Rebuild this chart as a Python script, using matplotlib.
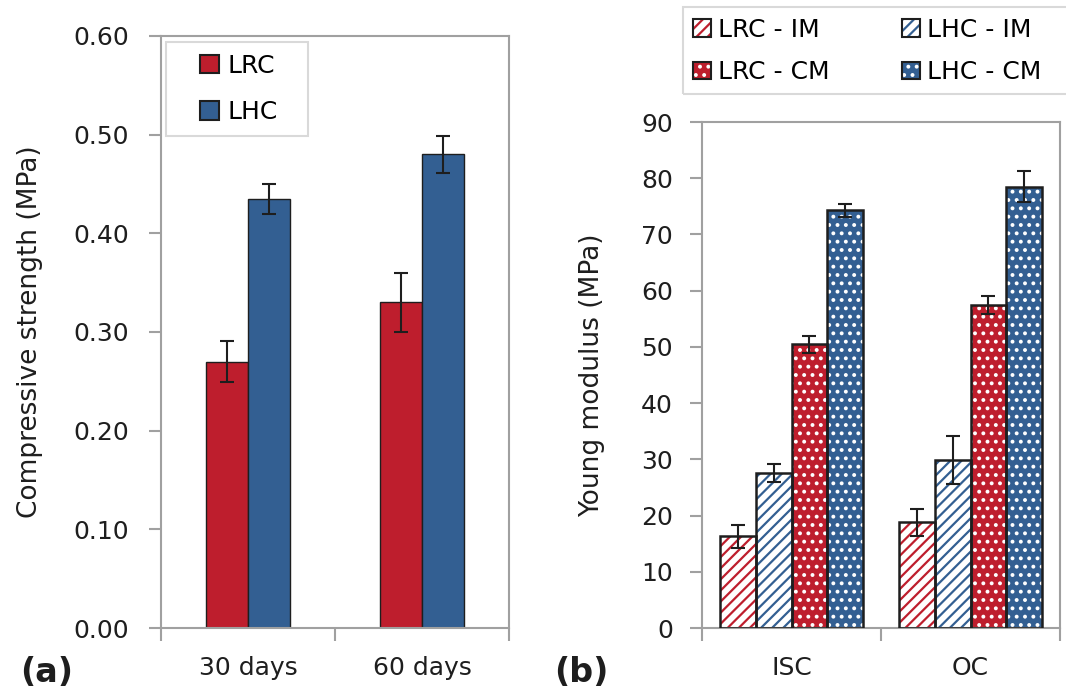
import matplotlib
matplotlib.use("Agg")
import matplotlib.pyplot as plt
from matplotlib.patches import Patch, Rectangle
import numpy as np

plt.rcParams['font.family'] = ['DejaVu Sans']
plt.rcParams['hatch.linewidth'] = 1.6

# ---- data (a) ----
ages = ['30 days', '60 days']
lrc_cs = [0.270, 0.330]
lrc_cs_err = [0.021, 0.030]
lhc_cs = [0.435, 0.480]
lhc_cs_err = [0.015, 0.019]

# ---- data (b) ----
cond = ['ISC', 'OC']
lrc_im = [16.3, 18.8]
lrc_im_err = [2.1, 2.4]
lhc_im = [27.6, 29.9]
lhc_im_err = [1.6, 4.3]
lrc_cm = [50.5, 57.4]
lrc_cm_err = [1.5, 1.6]
lhc_cm = [74.3, 78.5]
lhc_cm_err = [1.2, 2.7]

red = '#BE1E2D'
blue = '#335F92'
dark = '#1E1E1E'
grey = '#A0A0A0'
fs = 18

fig = plt.figure(figsize=(10.66, 6.99), dpi=100)
W, H = 1066, 699
ax1 = fig.add_axes([161 / W, 71 / H, 348 / W, 592 / H])
ax2 = fig.add_axes([702 / W, 71 / H, 358 / W, 506 / H])


def style_axes(ax, ncat, pad_y):
    for s in ax.spines.values():
        s.set_color(grey)
        s.set_linewidth(1.5)
    ax.set_xlim(-0.5, ncat - 0.5)
    ax.set_xticks(np.arange(ncat))
    ax.set_xticks(np.arange(ncat + 1) - 0.5, minor=True)
    ax.tick_params(axis='x', which='major', length=0, pad=20, labelsize=fs, colors=dark)
    ax.tick_params(axis='x', which='minor', length=9, width=1.5, color=grey, direction='out')
    ax.tick_params(axis='y', length=9, width=1.5, color=grey, direction='out',
                   pad=pad_y, labelsize=fs, labelcolor=dark)


def legend_box(x0, y0, x1, y1):
    # plain light frame drawn in pixel units of the figure
    fig.patches.append(Rectangle((x0 / W, 1 - y1 / H), (x1 - x0) / W, (y1 - y0) / H,
                                 transform=fig.transFigure, fill=False,
                                 edgecolor='#D9D9D9', linewidth=1.5))


# ---- (a) compressive strength ----
x = np.arange(len(ages))
w = 0.243
ekw = dict(ecolor=dark, elinewidth=1.5, capsize=4.7, capthick=1.5)
ax1.bar(x - w / 2, lrc_cs, w, color=red, edgecolor=dark, linewidth=1,
        yerr=lrc_cs_err, error_kw=ekw, label='LRC', zorder=2)
ax1.bar(x + w / 2, lhc_cs, w, color=blue, edgecolor=dark, linewidth=1,
        yerr=lhc_cs_err, error_kw=ekw, label='LHC', zorder=2)
style_axes(ax1, len(ages), 14)
ax1.set_xticklabels(ages)
ax1.set_ylim(0, 0.6)
ax1.set_yticks(np.arange(0, 0.61, 0.1))
ax1.set_yticklabels(['%.2f' % v for v in np.arange(0, 0.61, 0.1)])
ax1.set_ylabel('Compressive strength (MPa)', fontsize=19, color=dark, labelpad=22)
leg1 = ax1.legend(loc='center left', bbox_to_anchor=(200 / W, 1 - 89 / H),
                  bbox_transform=fig.transFigure, fontsize=fs, frameon=False,
                  borderpad=0, handlelength=0.75, handleheight=0.75,
                  handletextpad=0.35, labelspacing=0.9, borderaxespad=0)
for h in leg1.legend_handles:
    h.set_edgecolor(dark)
    h.set_linewidth(1.5)
legend_box(166, 42, 308, 136)

# ---- (b) Young modulus ----
x = np.arange(len(cond))
w = 0.2
series = [
    ('LRC - IM', lrc_im, lrc_im_err, 'white', red, '///'),
    ('LHC - IM', lhc_im, lhc_im_err, 'white', blue, '///'),
    ('LRC - CM', lrc_cm, lrc_cm_err, red, 'white', '..'),
    ('LHC - CM', lhc_cm, lhc_cm_err, blue, 'white', '..'),
]
handles = {}
for i, (lab, vals, errs, fc, hc, hatch) in enumerate(series):
    pos = x + (i - 1.5) * w
    ax2.bar(pos, vals, w, color=fc, edgecolor=hc, hatch=hatch, linewidth=0, zorder=2)
    ax2.bar(pos, vals, w, fill=False, edgecolor=dark, linewidth=1.8, zorder=3,
            yerr=errs, error_kw=ekw)
    handles[lab] = (Patch(facecolor=fc, edgecolor=hc, hatch=hatch, linewidth=0),
                    Patch(fill=False, edgecolor=dark, linewidth=1.5))
style_axes(ax2, len(cond), 12)
ax2.set_xticklabels(cond)
ax2.set_ylim(0, 90)
ax2.set_yticks(np.arange(0, 91, 10))
ax2.set_ylabel('Young modulus (MPa)', fontsize=19, color=dark, labelpad=26)

order = ['LRC - IM', 'LRC - CM', 'LHC - IM', 'LHC - CM']
leg2 = fig.legend([handles[k] for k in order], order, ncol=2, loc='center left',
                  bbox_to_anchor=(693 / W, 1 - 51 / H), fontsize=fs, frameon=False,
                  borderpad=0, handlelength=0.7, handleheight=0.7, handletextpad=0.3,
                  labelspacing=0.75, columnspacing=2.9, borderaxespad=0)
legend_box(683, 7, 1080, 94)

fig.text(20 / W, 1 - 672 / H, '(a)', fontsize=24, fontweight='bold', color=dark,
         va='center', ha='left')
fig.text(554 / W, 1 - 672 / H, '(b)', fontsize=24, fontweight='bold', color=dark,
         va='center', ha='left')

fig.savefig('out.png', dpi=100)
